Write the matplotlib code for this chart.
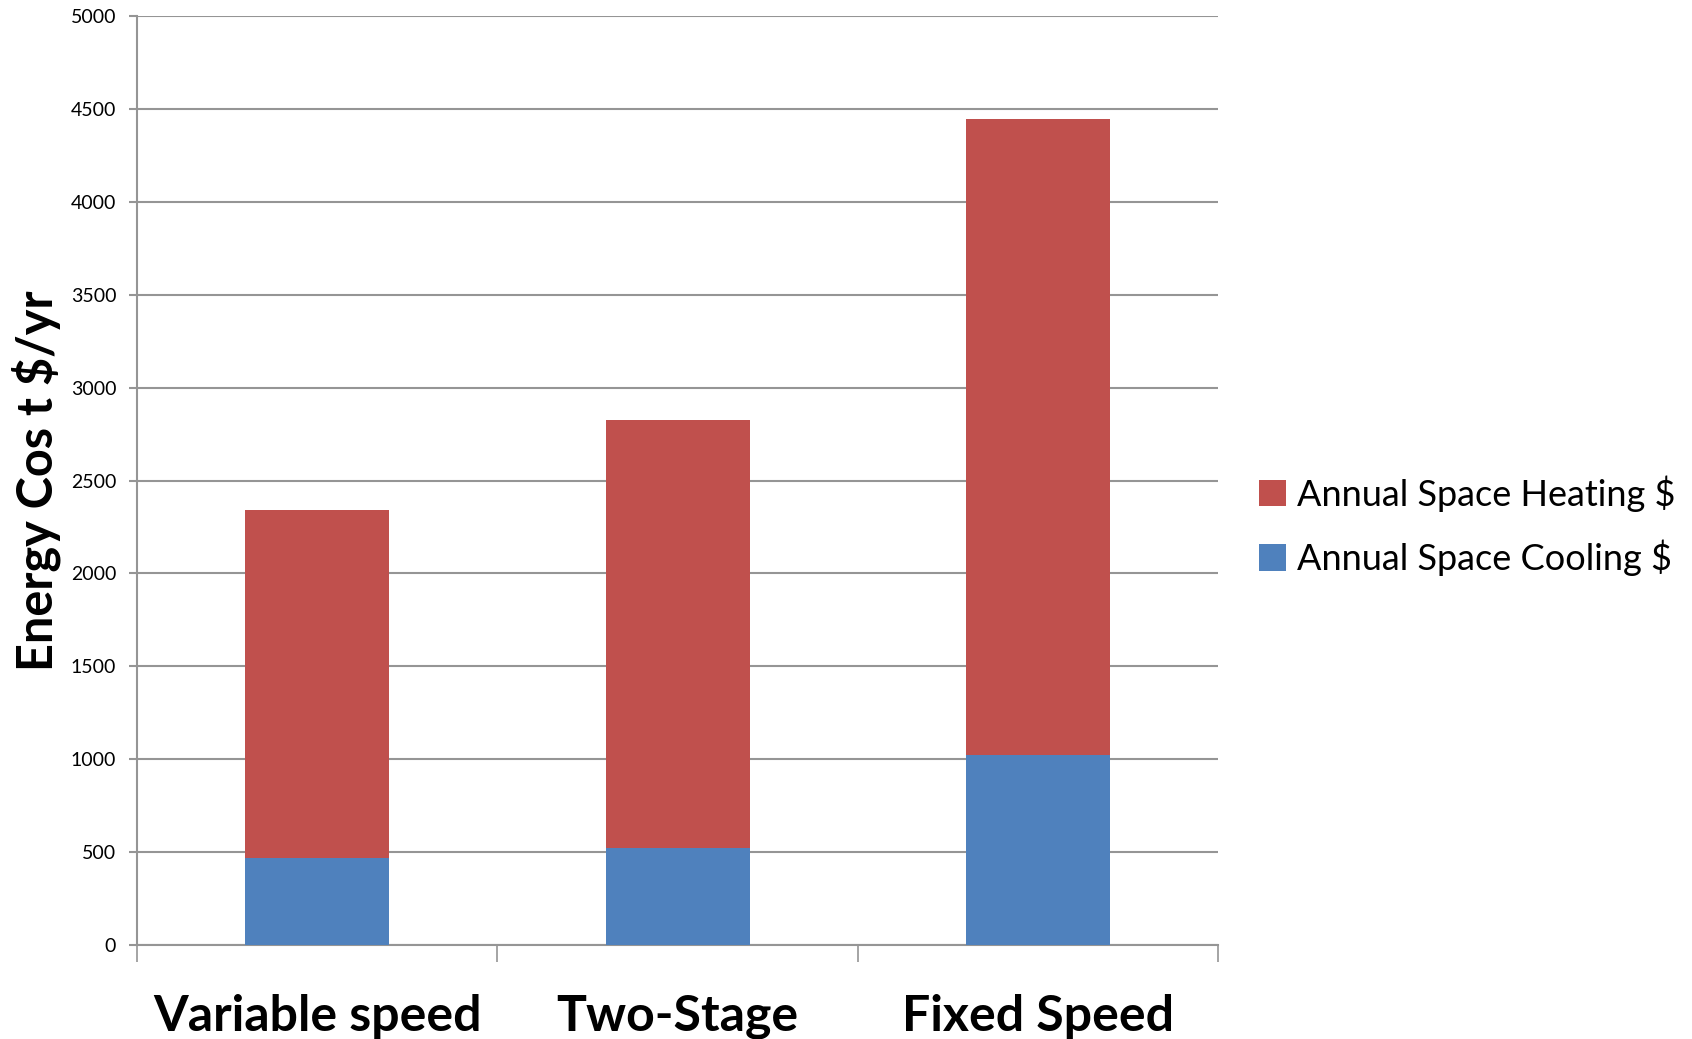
import matplotlib
matplotlib.use("Agg")
import matplotlib.pyplot as plt
import numpy as np

categories = ["Variable speed", "Two-Stage", "Fixed Speed"]
cooling = [466, 520, 1025]
heating_total = [2340, 2825, 4445]
heating = [t - c for t, c in zip(heating_total, cooling)]
yticks = list(range(0, 5001, 500))

RED = "#C0504D"
BLUE = "#4F81BD"
GRID = "#959595"

fig = plt.figure(figsize=(16.92, 10.39), dpi=100)
ax = fig.add_axes([0.081, 0.0905, 0.639, 0.894])

x = np.arange(len(categories))
ax.bar(x, cooling, width=0.4, color=BLUE, label="Annual Space Cooling $", zorder=3)
ax.bar(x, heating, width=0.4, bottom=cooling, color=RED, label="Annual Space Heating $", zorder=3)

ax.set_xlim(-0.5, 2.5)
ax.set_ylim(0, 5000)
ax.set_yticks(yticks)
ax.set_yticklabels([str(v) for v in yticks], fontsize=14, family="Lato")
ax.yaxis.grid(True, color=GRID, linewidth=1.5, zorder=0)
ax.tick_params(axis="y", length=6, width=1.5, color=GRID, pad=9)

ax.set_xticks(x)
ax.set_xticklabels(categories, fontsize=36, fontweight="bold", family="Lato")
ax.tick_params(axis="x", which="major", length=0, pad=35)
ax.set_xticks([-0.5, 0.5, 1.5, 2.5], minor=True)
ax.tick_params(axis="x", which="minor", length=12, width=1.2, color=GRID)

for s in ["top", "right"]:
    ax.spines[s].set_visible(False)
for s in ["left", "bottom"]:
    ax.spines[s].set_color(GRID)
    ax.spines[s].set_linewidth(1.5)

ax.set_ylabel("Energy Cos t $/yr", fontsize=35, fontweight="bold", family="Lato", labelpad=7)

handles, labels = ax.get_legend_handles_labels()
leg = fig.legend(handles[::-1], labels[::-1], loc="center left", bbox_to_anchor=(0.744, 0.494),
                 frameon=False, prop={"family": "Lato", "size": 26}, handlelength=0.75, handleheight=0.75,
                 handletextpad=0.3, labelspacing=0.78, borderpad=0, borderaxespad=0)

fig.savefig("out.png", dpi=100)
